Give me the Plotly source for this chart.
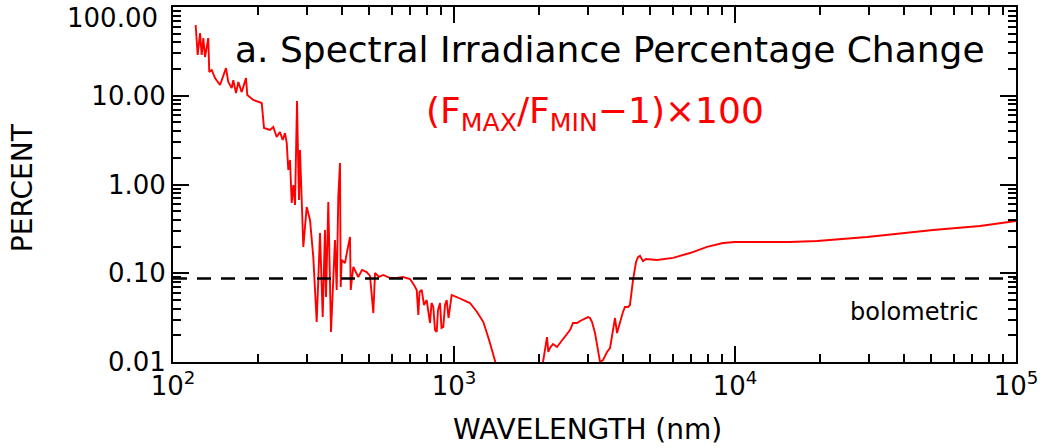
import plotly.graph_objects as go

# Wavelength (nm) and percentage change (F_MAX/F_MIN - 1) x 100
wl_uv_vis = [
    120.4, 122.4, 124.8, 126.5, 128.2, 130.0, 133.5, 134.6, 137.3, 141.1,
    147.0, 154.4, 157.3, 161.8, 163.9, 167.6, 170.8, 175.6, 181.9, 183.8,
    193.1, 201.2, 206.9, 210.8, 221.4, 227.5, 233.9, 240.3, 245.7, 250.4,
    253.9, 257.2, 260.9, 264.5, 268.0, 271.8, 276.3, 277.9, 280.8, 283.1,
    287.1, 290.9, 299.1, 307.3, 315.7, 324.6, 328.9, 333.5, 341.0, 347.4,
    350.3, 357.0, 365.0, 372.0, 377.1, 382.4, 387.5, 392.9, 395.2, 398.5,
    409.4, 416.2, 426.5, 429.0, 438.2, 456.5, 470.6, 489.1, 502.5, 516.3,
    523.6, 540.9, 560.3, 591.9, 625.3, 658.5, 697.4, 720.7, 736.8, 746.5,
    753.8, 767.4, 782.0, 799.5, 821.6, 831.7, 844.0, 855.9, 867.8, 877.2,
    891.7, 902.7, 916.0, 929.0, 941.9, 955.9, 981.2, 1022, 1076, 1140,
    1208, 1272, 1333, 1400, 1410,
]
pct_uv_vis = [
    62.7, 28.8, 50.9, 28.8, 44.7, 27.3, 44.7, 18.5, 19.5, 15.8,
    13.2, 20.5, 14.3, 12.2, 15.0, 10.7, 14.3, 11.0, 15.8, 10.2,
    8.96, 8.50, 8.28, 4.33, 4.11, 4.45, 3.43, 3.90, 3.17, 3.80,
    2.94, 1.46, 1.89, 0.619, 0.987, 0.587, 8.73, 3.17, 0.669, 2.45,
    0.802, 0.198, 0.558, 0.398, 0.152, 0.0282, 0.0839, 0.284, 0.0321, 0.307,
    0.054, 0.635, 0.0218, 0.0839, 0.237, 0.0648, 0.723, 1.75, 0.070, 0.141,
    0.130, 0.174, 0.256, 0.0648, 0.118, 0.0908, 0.109, 0.103, 0.0931, 0.0356,
    0.1006, 0.0908, 0.0956, 0.0884, 0.0884, 0.0908, 0.0861, 0.0737, 0.0648, 0.0338,
    0.0615, 0.0648, 0.0439, 0.0499, 0.0275, 0.0462, 0.0417, 0.0229, 0.0218, 0.0385,
    0.0462, 0.0242, 0.0248, 0.0439, 0.0499, 0.0313, 0.0569, 0.054, 0.0499, 0.0462,
    0.0366, 0.0282, 0.0177, 0.0100, 0.0095,
]

wl_ir = [
    2060, 2074, 2143, 2166, 2196, 2251, 2325, 2423, 2524, 2587,
    2652, 2740, 2809, 2925, 3000, 3048, 3099, 3176, 3228, 3309,
    3391, 3503, 3592, 3681, 3741, 3803, 3896, 3993, 4059, 4160,
    4229, 4335, 4444, 4516, 4591, 4705, 4824, 5277, 6017, 6918,
    7952, 9066, 10000, 12270, 15700, 19580, 29500, 50650, 74460, 100000,
]
pct_ir = [
    0.0095, 0.0100, 0.0191, 0.01297, 0.01438, 0.01596, 0.01476, 0.0177, 0.0212, 0.0229,
    0.0275, 0.0275, 0.0290, 0.0305, 0.0321, 0.0313, 0.0282, 0.0212, 0.01637, 0.0100,
    0.0105, 0.01297, 0.01438, 0.0229, 0.0313, 0.0212, 0.0282, 0.0366, 0.0417, 0.0417,
    0.0439, 0.0839, 0.134, 0.152, 0.157, 0.137, 0.145, 0.141, 0.149, 0.169,
    0.198, 0.219, 0.225, 0.225, 0.225, 0.231, 0.256, 0.307, 0.341, 0.388,
]

bolometric_pct = 0.087
x_range = [100, 100000]

x_tickvals = [100, 1000, 10000, 100000]
x_ticktext = ["10<sup>2</sup>", "10<sup>3</sup>", "10<sup>4</sup>", "10<sup>5</sup>"]
# the top decade label sits just below the frame corner, drawn as an annotation
y_tickvals = [0.01, 0.1, 1, 10, 100]
y_ticktext = ["0.01", "0.10", "1.00", "10.00", ""]
y_top_label = "100.00"

FONT = "DejaVu Sans"
RED = "#ff0000"


def minor_log_ticks(decades):
    """2..9 times each decade start, for the small log-axis ticks."""
    return [m * d for d in decades for m in range(2, 10)]


fig = go.Figure()

fig.add_trace(go.Scatter(
    x=wl_uv_vis + [None] + wl_ir,
    y=pct_uv_vis + [None] + pct_ir,
    mode="lines",
    line=dict(color=RED, width=1.9),
    connectgaps=False,
    showlegend=False,
))

fig.add_trace(go.Scatter(
    x=x_range,
    y=[bolometric_pct, bolometric_pct],
    mode="lines",
    line=dict(color="black", width=2.5, dash="14px,10px"),
    showlegend=False,
))

axis_common = dict(
    type="log",
    showgrid=False,
    zeroline=False,
    showline=True,
    linecolor="black",
    linewidth=2,
    mirror="allticks",
    ticks="inside",
    ticklen=16,
    tickwidth=2,
    tickcolor="black",
    tickmode="array",
    automargin=False,
    ticklabeloverflow="allow",
    tickfont=dict(family=FONT, size=26, color="black"),
)
minor_common = dict(ticks="inside", ticklen=8, tickwidth=2, tickcolor="black",
                    tickmode="array", showgrid=False)

fig.update_xaxes(
    **axis_common,
    range=[2, 5],
    tickvals=x_tickvals,
    ticktext=x_ticktext,
    minor=dict(**minor_common, tickvals=minor_log_ticks([100, 1000, 10000])),
)
fig.update_yaxes(
    **axis_common,
    range=[-2, 2],
    tickvals=y_tickvals,
    ticktext=y_ticktext,
    minor=dict(**minor_common, tickvals=minor_log_ticks([0.01, 0.1, 1, 10])),
)

annotations = [
    dict(text="a. Spectral Irradiance Percentage Change", x=0.518, y=0.879,
         font=dict(family=FONT, size=36, color="black")),
    dict(text="(F<sub>MAX</sub>/F<sub>MIN</sub>\u22121)\u00d7100", x=0.5006, y=0.701,
         font=dict(family=FONT, size=36, color=RED)),
    dict(text="bolometric", x=0.880, y=0.141,
         font=dict(family=FONT, size=24, color="black")),
    dict(text="PERCENT", x=-0.179, y=0.49, textangle=-90,
         font=dict(family=FONT, size=28, color="black")),
    dict(text="WAVELENGTH (nm)", x=0.492, y=-0.19,
         font=dict(family=FONT, size=28, color="black")),
    dict(text=y_top_label, x=-0.0154, y=0.969, xanchor="right",
         font=dict(family=FONT, size=26, color="black")),
]
for a in annotations:
    a.setdefault("xanchor", "center")
    a.update(xref="paper", yref="paper", showarrow=False, yanchor="middle")

fig.update_layout(
    width=1042,
    height=448,
    margin=dict(l=173, r=26, t=7, b=86),
    paper_bgcolor="white",
    plot_bgcolor="white",
    annotations=annotations,
)

fig.write_html("out.html")
